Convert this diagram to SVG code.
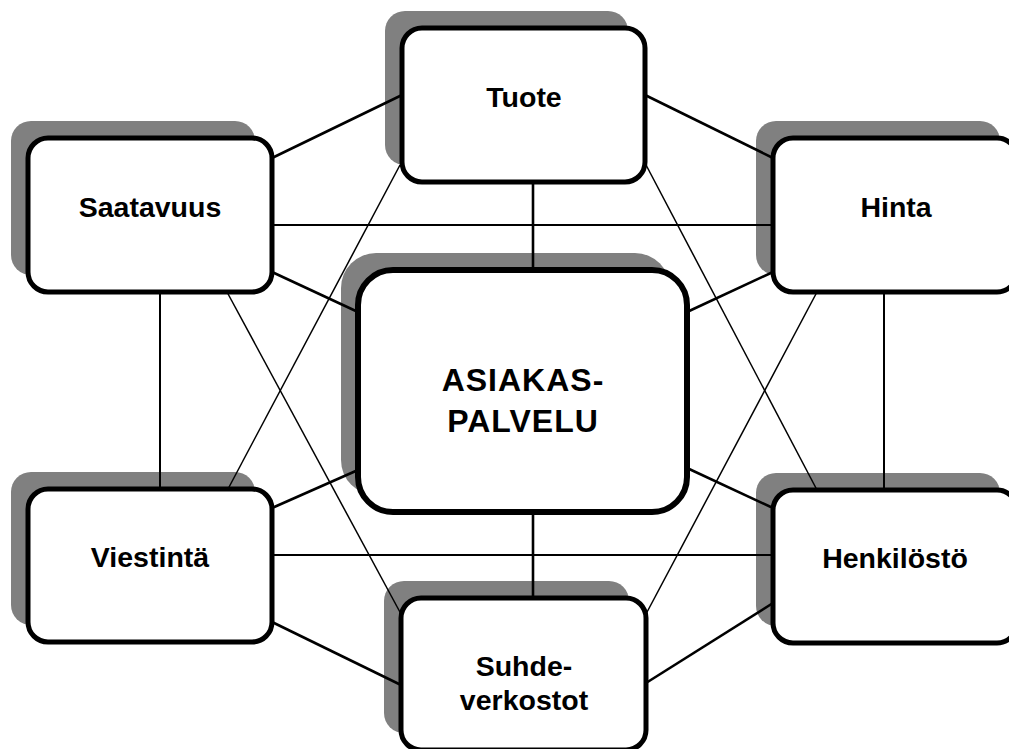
<svg xmlns="http://www.w3.org/2000/svg" width="1009" height="749" viewBox="0 0 1009 749">
<style>
.sh{fill:#808080;stroke:none}
.bx{fill:#fff;stroke:#000;stroke-width:5}
.cb{fill:#fff;stroke:#000;stroke-width:6}
.t{font-family:"Liberation Sans",Arial,sans-serif;font-weight:bold;font-size:28.5px;fill:#000;text-anchor:middle}
.ct{font-family:"Liberation Sans",Arial,sans-serif;font-weight:bold;font-size:32px;letter-spacing:1px;fill:#000;text-anchor:middle}
.l1{stroke:#000;stroke-width:2.6;fill:none}
.l2{stroke:#000;stroke-width:2;fill:none}
.l3{stroke:#000;stroke-width:1.5;fill:none}
</style>
<rect width="1009" height="749" fill="#fff"/>
<g id="shadows">
<rect class="sh" x="385" y="11" width="243" height="154" rx="20"/>
<rect class="sh" x="11" y="121" width="244" height="154" rx="20"/>
<rect class="sh" x="756" y="121" width="244" height="154" rx="20"/>
<rect class="sh" x="11" y="472" width="244" height="153" rx="20"/>
<rect class="sh" x="756" y="473" width="244" height="153" rx="20"/>
<rect class="sh" x="384" y="581" width="245" height="152" rx="20"/>
<rect class="sh" x="341" y="253" width="329" height="242" rx="35"/>
</g>
<g id="connectors">
<line class="l1" x1="272" y1="158" x2="402" y2="95"/>
<line class="l1" x1="645" y1="95" x2="773" y2="158"/>
<line class="l1" x1="533" y1="182" x2="533" y2="270"/>
<line class="l1" x1="272" y1="272" x2="358" y2="312"/>
<line class="l1" x1="773" y1="272" x2="687" y2="312"/>
<line class="l1" x1="272" y1="508" x2="358" y2="470"/>
<line class="l1" x1="773" y1="508" x2="687" y2="468"/>
<line class="l1" x1="533" y1="512" x2="533" y2="598"/>
<line class="l1" x1="272" y1="622" x2="401" y2="685"/>
<line class="l1" x1="773" y1="603" x2="646" y2="683"/>
<line class="l2" x1="272" y1="225" x2="773" y2="225"/>
<line class="l2" x1="272" y1="555" x2="773" y2="555"/>
<line class="l2" x1="160" y1="292" x2="160" y2="489"/>
<line class="l2" x1="884" y1="292" x2="884" y2="490"/>
<line class="l3" x1="400" y1="165" x2="228" y2="489"/>
<line class="l3" x1="645" y1="163" x2="817" y2="490"/>
<line class="l3" x1="227" y1="292" x2="401" y2="614"/>
<line class="l3" x1="817" y1="292" x2="646" y2="614"/>
</g>
<g id="tuote"><rect class="bx" x="402" y="28" width="243" height="154" rx="20"/><text class="t" x="524" y="107">Tuote</text></g>
<g id="saatavuus"><rect class="bx" x="28" y="138" width="244" height="154" rx="20"/><text class="t" x="150" y="217">Saatavuus</text></g>
<g id="hinta"><rect class="bx" x="773" y="138" width="244" height="154" rx="20"/><text class="t" x="896" y="217">Hinta</text></g>
<g id="viestinta"><rect class="bx" x="28" y="489" width="244" height="153" rx="20"/><text class="t" x="150" y="567">Viestintä</text></g>
<g id="henkilosto"><rect class="bx" x="773" y="490" width="244" height="153" rx="20"/><text class="t" x="895" y="568">Henkilöstö</text></g>
<g id="suhdeverkostot"><rect class="bx" x="401" y="598" width="245" height="152" rx="20"/><text class="t" x="524" y="676">Suhde-</text><text class="t" x="524" y="710">verkostot</text></g>
<g id="asiakaspalvelu"><rect class="cb" x="358" y="270" width="329" height="242" rx="35"/><text class="ct" x="523" y="391">ASIAKAS-</text><text class="ct" x="523" y="432">PALVELU</text></g>
</svg>
